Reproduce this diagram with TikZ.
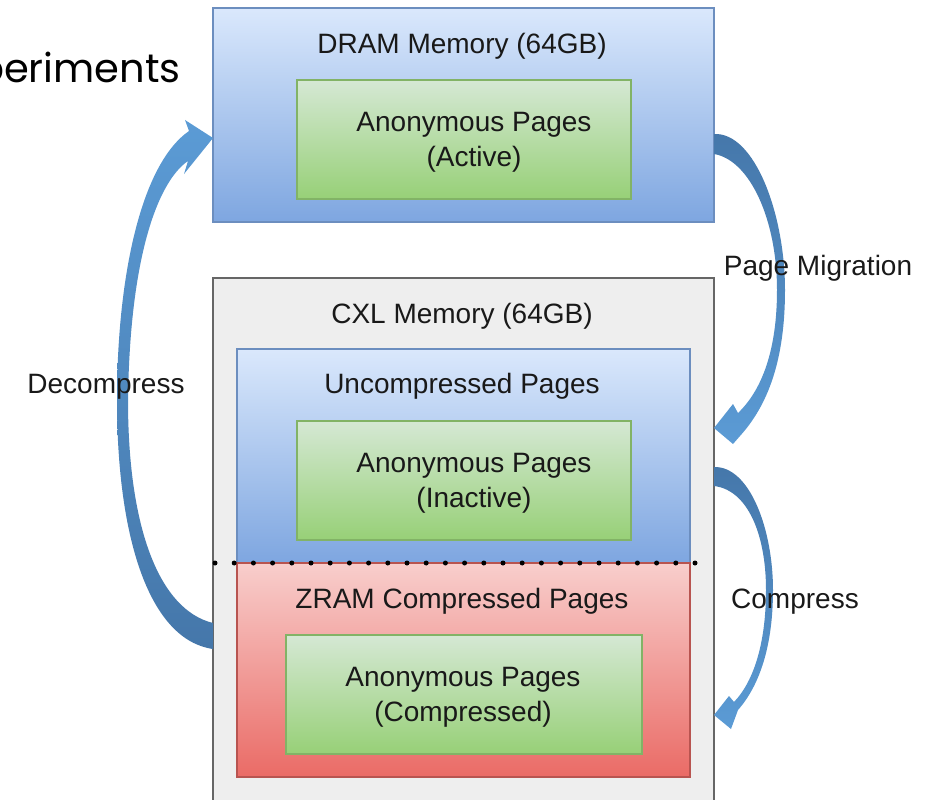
\documentclass[tikz,border=0pt]{standalone}
\usepackage{fontspec}
\setmainfont{Liberation Sans}
\newfontfamily\headfont{Poppins}
\usetikzlibrary{calc}
\definecolor{bluetop}{HTML}{DAE8FC}
\definecolor{bluebot}{HTML}{7EA6E0}
\definecolor{blueline}{HTML}{6C8EBF}
\definecolor{greentop}{HTML}{D5E8D4}
\definecolor{greenbot}{HTML}{97D077}
\definecolor{greenline}{HTML}{82B366}
\definecolor{redtop}{HTML}{F8CECC}
\definecolor{redbot}{HTML}{EA6B66}
\definecolor{redline}{HTML}{B85450}
\definecolor{grayfill}{HTML}{EEEEEE}
\definecolor{grayline}{HTML}{666666}
\definecolor{arrowlight}{HTML}{5B9BD5}
\definecolor{arrowdark}{HTML}{4577AA}

\begin{document}
\begin{tikzpicture}[x=1pt,y=-1pt,
  region/.style={anchor=north west, inner sep=0pt, outer sep=0pt, line width=1.5pt},
  bluebox/.style={region, draw=blueline, top color=bluetop, bottom color=bluebot},
  greenbox/.style={region, draw=greenline, top color=greentop, bottom color=greenbot},
  redbox/.style={region, draw=redline, top color=redtop, bottom color=redbot},
  graybox/.style={region, draw=grayline, fill=grayfill, line width=2pt},
  txt/.style={font=\fontsize{28}{35}\selectfont, inner sep=0pt, align=center, text=black!90},
  txtbase/.style={txt, anchor=base},
  fromtail/.style={top color=arrowdark, bottom color=arrowlight},
  totail/.style={top color=arrowlight, bottom color=arrowdark},
]
\useasboundingbox (0,0) rectangle (930,800);

% heading fragment at the upper left
\node[font=\headfont\fontsize{40}{48}\selectfont, anchor=base east, inner sep=0pt] (exp) at (181,83) {periments};

% memory regions
\node[bluebox, minimum width=501pt, minimum height=214pt] (dram) at (213,8) {};
\node[greenbox, minimum width=334pt, minimum height=119pt] (active) at (297,80) {};

\node[graybox, minimum width=501pt, minimum height=530pt] (cxl) at (213,278) {};
\node[bluebox, minimum width=453pt, minimum height=214pt] (uncomp) at (237,349) {};
\node[greenbox, minimum width=334pt, minimum height=119pt] (inactive) at (297,421) {};
\node[redbox, minimum width=453pt, minimum height=214pt] (zram) at (237,563) {};
\node[greenbox, minimum width=356pt, minimum height=119pt] (compressed) at (286,635) {};

% boundary between uncompressed and compressed pages
\draw[line width=5pt, line cap=round, dash pattern=on 0pt off 19.2pt]
  (cxl.west |- zram.north) ++(2,0) -- (cxl.east |- zram.north);

% Decompress: ZRAM back to DRAM
\coordinate (dcTailIn) at (cxl.west |- 0,623);
\coordinate (dcTailOut) at (cxl.west |- 0,649);
\coordinate (dcTip) at (dram.west |- 0,138);
\shade[totail]
  (dcTailOut) .. controls (150,640) and (117,540) .. (117,400)
  .. controls (117,280) and (140,165) .. (189,131)
  -- (185,120) -- (dcTip) -- (184,174) -- (188,161)
  .. controls (160,180) and (130,250) .. (128,400)
  .. controls (128,530) and (160,610) .. (dcTailIn) -- cycle;

% Page Migration: DRAM to CXL
\coordinate (pmTailOut) at (dram.east |- 0,134);
\coordinate (pmTailIn) at (dram.east |- 0,154);
\coordinate (pmTip) at (cxl.east |- 0,428);
\shade[fromtail]
  (pmTailOut) .. controls (755,132) and (785,215) .. (785,290)
  .. controls (785,360) and (768,405) .. (740,436)
  -- (733,444) -- (pmTip) -- (733,404) -- (738,413)
  .. controls (762,390) and (777,350) .. (777,290)
  .. controls (777,220) and (750,160) .. (pmTailIn) -- cycle;

% Compress: uncompressed pages into ZRAM
\coordinate (cpTailOut) at (cxl.east |- 0,467);
\coordinate (cpTailIn) at (cxl.east |- 0,486);
\coordinate (cpTip) at (cxl.east |- 0,715);
\shade[fromtail]
  (cpTailOut) .. controls (750,466) and (773,530) .. (773,590)
  .. controls (773,645) and (760,685) .. (738,710)
  -- (731,729) -- (cpTip) -- (729,696) -- (734,702)
  .. controls (755,680) and (766,640) .. (766,590)
  .. controls (766,535) and (748,490) .. (cpTailIn) -- cycle;

% texts
\node[txtbase] (dramT) at (462,54) {DRAM Memory (64GB)};
\node[txt] (activeT) at (474,142) {Anonymous Pages\\(Active)};
\node[txtbase] (cxlT) at (462,323) {CXL Memory (64GB)};
\node[txtbase] (uncompT) at (462,393) {Uncompressed Pages};
\node[txt] (inactiveT) at (474,483) {Anonymous Pages\\(Inactive)};
\node[txtbase] (zramT) at (462,608) {ZRAM Compressed Pages};
\node[txt] (compressedT) at (463,697) {Anonymous Pages\\(Compressed)};

\node[txtbase] (dcT) at (106,393) {Decompress};
\node[txtbase] (pmT) at (818,275) {Page Migration};
\node[txtbase] (cpT) at (795,608) {Compress};
\end{tikzpicture}
\end{document}
